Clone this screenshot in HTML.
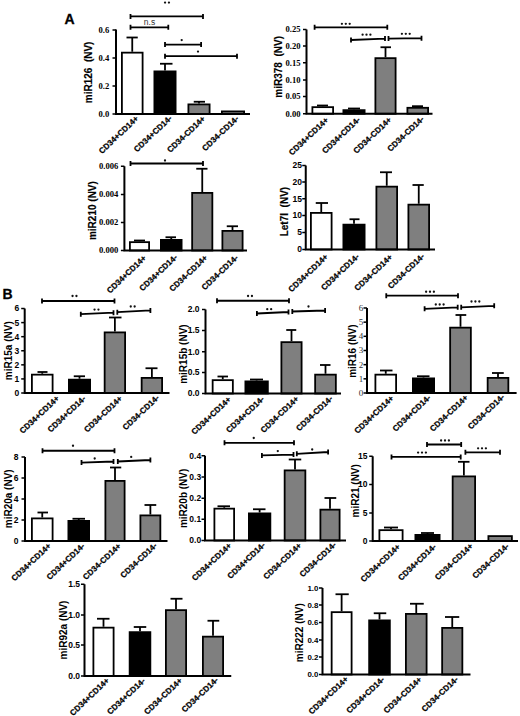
<!DOCTYPE html>
<html><head><meta charset="utf-8"><style>
html,body{margin:0;padding:0;background:#fff;}
svg{display:block;}
text{font-family:"Liberation Sans", sans-serif;}
.b{stroke:#000;stroke-width:1.8;}
.e{stroke:#000;stroke-width:1.8;}
.a{fill:none;stroke:#000;stroke-width:2.0;}
.t{stroke:#000;stroke-width:1.5;}
.s{fill:none;stroke:#000;stroke-width:1.8;}
.dot{fill:#111;}
.ts{font-family:"Liberation Serif", serif;font-weight:bold;text-anchor:end;}
.tg{font-family:"Liberation Serif", serif;fill:#333;text-anchor:end;}
.tn{font-weight:bold;text-anchor:end;}
.yt{font-weight:bold;text-anchor:middle;}
.yth{stroke:#000;stroke-width:0.15;}
.st{font-size:8.5px;font-weight:bold;text-anchor:middle;}
.ns{font-size:8.5px;text-anchor:middle;fill:#333;}
.xl{font-size:8.1px;font-weight:bold;text-anchor:end;stroke:#000;stroke-width:0.25;}
.pl{font-size:14px;font-weight:bold;stroke:#000;stroke-width:0.3;}
</style></head><body>
<svg width="520" height="716" viewBox="0 0 520 716">
<text x="64.6" y="24.1" class="pl">A</text>
<text x="2.6" y="299.1" class="pl">B</text>
<line x1="132.25" y1="51.75" x2="132.25" y2="37.5" class="e"/>
<line x1="126.5" y1="37.5" x2="137.75" y2="37.5" class="e"/>
<rect x="121.9" y="52.65" width="20.7" height="61.35" fill="#fff" class="b"/>
<line x1="165" y1="70.5" x2="165" y2="63.75" class="e"/>
<line x1="160" y1="63.75" x2="172.5" y2="63.75" class="e"/>
<rect x="154.4" y="71.4" width="21.2" height="42.6" fill="#000" class="b"/>
<line x1="199" y1="103.5" x2="199" y2="101.75" class="e"/>
<line x1="193.75" y1="101.75" x2="205" y2="101.75" class="e"/>
<rect x="188.4" y="104.4" width="21.2" height="9.6" fill="#7f7f7f" class="b"/>
<rect x="221.9" y="111.4" width="22.2" height="2.6" fill="#7f7f7f" class="b"/>
<path d="M116 29.5V114H250" class="a"/>
<line x1="112.5" y1="114" x2="116" y2="114" class="t"/>
<text x="109.2" y="116.9" class="ts" style="font-size:8.6px">0.0</text>
<line x1="112.5" y1="86" x2="116" y2="86" class="t"/>
<text x="109.2" y="88.9" class="ts" style="font-size:8.6px">0.2</text>
<line x1="112.5" y1="58" x2="116" y2="58" class="t"/>
<text x="109.2" y="60.9" class="ts" style="font-size:8.6px">0.4</text>
<line x1="112.5" y1="30" x2="116" y2="30" class="t"/>
<text x="109.2" y="32.9" class="ts" style="font-size:8.6px">0.6</text>
<text transform="translate(92 72.4) rotate(-90)" class="yt yth" style="font-size:10px">miR126  (NV)</text>
<path d="M130.5 13.9V18.9M130.5 16.4L203 16.4M203 13.9V18.9" class="s"/>
<circle cx="165.05" cy="2.6" r="1.15" class="dot"/>
<circle cx="168.95" cy="2.6" r="1.15" class="dot"/>
<path d="M130.5 24.8V29.8M130.5 27.3L168.3 27.3M168.3 24.8V29.8" class="s"/>
<text x="149.5" y="25.1" class="ns">n.s</text>
<path d="M165 42.1V47.1M165 44.6L201.1 44.6M201.1 42.1V47.1" class="s"/>
<circle cx="181.7" cy="40.1" r="1.15" class="dot"/>
<path d="M165 53.7V58.7M165 56.2L237 56.2M237 53.7V58.7" class="s"/>
<circle cx="198" cy="51.6" r="1.15" class="dot"/>
<text transform="translate(138.9 119.2) rotate(-43.5)" class="xl">CD34+CD14+</text>
<text transform="translate(172.5 118.9) rotate(-43.5)" class="xl">CD34+CD14-</text>
<text transform="translate(205.6 119.4) rotate(-43.5)" class="xl">CD34-CD14+</text>
<text transform="translate(239.3 119.2) rotate(-43.5)" class="xl">CD34-CD14-</text>
<line x1="322.75" y1="106.25" x2="322.75" y2="105.5" class="e"/>
<line x1="317" y1="105.5" x2="328" y2="105.5" class="e"/>
<rect x="312.4" y="107.15" width="20.7" height="6.6" fill="#fff" class="b"/>
<line x1="354" y1="109.25" x2="354" y2="108.5" class="e"/>
<line x1="348" y1="108.5" x2="360" y2="108.5" class="e"/>
<rect x="343.4" y="110.15" width="21.2" height="3.6" fill="#000" class="b"/>
<line x1="385.5" y1="57.25" x2="385.5" y2="47.25" class="e"/>
<line x1="380.5" y1="47.25" x2="391" y2="47.25" class="e"/>
<rect x="375.4" y="58.15" width="20.2" height="55.6" fill="#7f7f7f" class="b"/>
<line x1="417.75" y1="106.9" x2="417.75" y2="106.2" class="e"/>
<line x1="412" y1="106.2" x2="423" y2="106.2" class="e"/>
<rect x="407.4" y="107.8" width="20.7" height="5.95" fill="#7f7f7f" class="b"/>
<path d="M306.5 29.5V113.75H432.5" class="a"/>
<line x1="303" y1="113.75" x2="306.5" y2="113.75" class="t"/>
<text x="300.6" y="116.65" class="ts" style="font-size:8.6px">0.00</text>
<line x1="303" y1="96.5" x2="306.5" y2="96.5" class="t"/>
<text x="300.6" y="99.4" class="ts" style="font-size:8.6px">0.05</text>
<line x1="303" y1="80" x2="306.5" y2="80" class="t"/>
<text x="300.6" y="82.9" class="ts" style="font-size:8.6px">0.10</text>
<line x1="303" y1="62.75" x2="306.5" y2="62.75" class="t"/>
<text x="300.6" y="65.65" class="ts" style="font-size:8.6px">0.15</text>
<line x1="303" y1="46" x2="306.5" y2="46" class="t"/>
<text x="300.6" y="48.9" class="ts" style="font-size:8.6px">0.20</text>
<line x1="303" y1="29.5" x2="306.5" y2="29.5" class="t"/>
<text x="300.6" y="32.4" class="ts" style="font-size:8.6px">0.25</text>
<text transform="translate(282.3 66.8) rotate(-90)" class="yt yth" style="font-size:10px">miR378  (NV)</text>
<path d="M314.6 24.8V29.8M314.6 27.3L387.3 27.3M387.3 24.8V29.8" class="s"/>
<circle cx="341.9" cy="23.8" r="1.15" class="dot"/>
<circle cx="345.8" cy="23.8" r="1.15" class="dot"/>
<circle cx="349.7" cy="23.8" r="1.15" class="dot"/>
<path d="M351 37.5V42.5M351 40L385 38.6M385 36.1V41.1" class="s"/>
<circle cx="362.6" cy="34.7" r="1.15" class="dot"/>
<circle cx="366.5" cy="34.7" r="1.15" class="dot"/>
<circle cx="370.4" cy="34.7" r="1.15" class="dot"/>
<path d="M388.5 36.1V41.1M388.5 38.6L421.5 38.2M421.5 35.7V40.7" class="s"/>
<circle cx="401.9" cy="33.8" r="1.15" class="dot"/>
<circle cx="405.8" cy="33.8" r="1.15" class="dot"/>
<circle cx="409.7" cy="33.8" r="1.15" class="dot"/>
<text transform="translate(329 120.8) rotate(-43.5)" class="xl">CD34+CD14+</text>
<text transform="translate(360.6 120.35) rotate(-43.5)" class="xl">CD34+CD14-</text>
<text transform="translate(392 120.5) rotate(-43.5)" class="xl">CD34-CD14+</text>
<text transform="translate(424.5 119.7) rotate(-43.5)" class="xl">CD34-CD14-</text>
<line x1="139.5" y1="241.25" x2="139.5" y2="240.5" class="e"/>
<line x1="134" y1="240.5" x2="145" y2="240.5" class="e"/>
<rect x="129.9" y="242.15" width="19.2" height="8.35" fill="#fff" class="b"/>
<line x1="171.25" y1="239" x2="171.25" y2="237.25" class="e"/>
<line x1="165.5" y1="237.25" x2="176" y2="237.25" class="e"/>
<rect x="160.9" y="239.9" width="20.7" height="10.6" fill="#000" class="b"/>
<line x1="202.25" y1="192" x2="202.25" y2="168.75" class="e"/>
<line x1="196.25" y1="168.75" x2="207.5" y2="168.75" class="e"/>
<rect x="192.15" y="192.9" width="20.2" height="57.6" fill="#7f7f7f" class="b"/>
<line x1="232.5" y1="230" x2="232.5" y2="226.25" class="e"/>
<line x1="226.75" y1="226.25" x2="238" y2="226.25" class="e"/>
<rect x="222.4" y="230.9" width="20.2" height="19.6" fill="#7f7f7f" class="b"/>
<path d="M124.4 166.25V250.5H247" class="a"/>
<line x1="120.9" y1="250.5" x2="124.4" y2="250.5" class="t"/>
<text x="118.3" y="253.4" class="ts" style="font-size:8.6px">0.000</text>
<line x1="120.9" y1="222.5" x2="124.4" y2="222.5" class="t"/>
<text x="118.3" y="225.4" class="ts" style="font-size:8.6px">0.002</text>
<line x1="120.9" y1="194.5" x2="124.4" y2="194.5" class="t"/>
<text x="118.3" y="197.4" class="ts" style="font-size:8.6px">0.004</text>
<line x1="120.9" y1="166.25" x2="124.4" y2="166.25" class="t"/>
<text x="118.3" y="169.15" class="ts" style="font-size:8.6px">0.006</text>
<text transform="translate(96 210.6) rotate(-90)" class="yt yth" style="font-size:10px">miR210 (NV)</text>
<path d="M130.5 161V166M130.5 163.5L203 163.5M203 161V166" class="s"/>
<circle cx="165" cy="160.5" r="1.15" class="dot"/>
<text transform="translate(146.8 258.75) rotate(-43.5)" class="xl">CD34+CD14+</text>
<text transform="translate(177.85 258) rotate(-43.5)" class="xl">CD34+CD14-</text>
<text transform="translate(207.9 258.4) rotate(-43.5)" class="xl">CD34-CD14+</text>
<text transform="translate(238.6 258.3) rotate(-43.5)" class="xl">CD34-CD14-</text>
<line x1="321.25" y1="212" x2="321.25" y2="203" class="e"/>
<line x1="315.75" y1="203" x2="328" y2="203" class="e"/>
<rect x="310.9" y="212.9" width="20.7" height="36.6" fill="#fff" class="b"/>
<line x1="354" y1="223.75" x2="354" y2="219.25" class="e"/>
<line x1="349.5" y1="219.25" x2="359.5" y2="219.25" class="e"/>
<rect x="343.4" y="224.65" width="21.2" height="24.85" fill="#000" class="b"/>
<line x1="386.75" y1="185.75" x2="386.75" y2="172.25" class="e"/>
<line x1="380" y1="172.25" x2="392" y2="172.25" class="e"/>
<rect x="376.4" y="186.65" width="20.7" height="62.85" fill="#7f7f7f" class="b"/>
<line x1="418.75" y1="203.75" x2="418.75" y2="185" class="e"/>
<line x1="412.5" y1="185" x2="423.75" y2="185" class="e"/>
<rect x="408.4" y="204.65" width="20.7" height="44.85" fill="#7f7f7f" class="b"/>
<path d="M305.75 165.5V249.5H435" class="a"/>
<line x1="302.25" y1="249.5" x2="305.75" y2="249.5" class="t"/>
<text x="302" y="252.4" class="tn" style="font-size:8.5px">0</text>
<line x1="302.25" y1="232.5" x2="305.75" y2="232.5" class="t"/>
<text x="302" y="235.4" class="tn" style="font-size:8.5px">5</text>
<line x1="302.25" y1="215.5" x2="305.75" y2="215.5" class="t"/>
<text x="302" y="218.4" class="tn" style="font-size:8.5px">10</text>
<line x1="302.25" y1="198.75" x2="305.75" y2="198.75" class="t"/>
<text x="302" y="201.65" class="tn" style="font-size:8.5px">15</text>
<line x1="302.25" y1="182" x2="305.75" y2="182" class="t"/>
<text x="302" y="184.9" class="tn" style="font-size:8.5px">20</text>
<line x1="302.25" y1="165.5" x2="305.75" y2="165.5" class="t"/>
<text x="302" y="168.4" class="tn" style="font-size:8.5px">25</text>
<text transform="translate(287.5 211.6) rotate(-90)" class="yt yth" style="font-size:10px">Let7I  (NV)</text>
<text transform="translate(328.5 257.4) rotate(-43.5)" class="xl">CD34+CD14+</text>
<text transform="translate(359.6 257.25) rotate(-43.5)" class="xl">CD34+CD14-</text>
<text transform="translate(393 257.75) rotate(-43.5)" class="xl">CD34-CD14+</text>
<text transform="translate(424.9 257) rotate(-43.5)" class="xl">CD34-CD14-</text>
<line x1="42.25" y1="373.75" x2="42.25" y2="372" class="e"/>
<line x1="37.5" y1="372" x2="47.5" y2="372" class="e"/>
<rect x="31.9" y="374.65" width="20.7" height="18.35" fill="#fff" class="b"/>
<line x1="79.5" y1="378.75" x2="79.5" y2="376.25" class="e"/>
<line x1="73.75" y1="376.25" x2="85" y2="376.25" class="e"/>
<rect x="68.9" y="379.65" width="21.2" height="13.35" fill="#000" class="b"/>
<line x1="114.88" y1="331.5" x2="114.88" y2="317.5" class="e"/>
<line x1="109" y1="317.5" x2="121.5" y2="317.5" class="e"/>
<rect x="104.65" y="332.4" width="20.45" height="60.6" fill="#7f7f7f" class="b"/>
<line x1="151.88" y1="377" x2="151.88" y2="368.25" class="e"/>
<line x1="145.5" y1="368.25" x2="157.5" y2="368.25" class="e"/>
<rect x="141.65" y="377.9" width="20.45" height="15.1" fill="#7f7f7f" class="b"/>
<path d="M24.7 308.5V393H169.5" class="a"/>
<line x1="21.2" y1="393" x2="24.7" y2="393" class="t"/>
<text x="19.3" y="395.9" class="tn" style="font-size:8.5px">0</text>
<line x1="21.2" y1="378.92" x2="24.7" y2="378.92" class="t"/>
<text x="19.3" y="381.82" class="tn" style="font-size:8.5px">1</text>
<line x1="21.2" y1="364.84" x2="24.7" y2="364.84" class="t"/>
<text x="19.3" y="367.74" class="tn" style="font-size:8.5px">2</text>
<line x1="21.2" y1="350.76" x2="24.7" y2="350.76" class="t"/>
<text x="19.3" y="353.66" class="tn" style="font-size:8.5px">3</text>
<line x1="21.2" y1="336.68" x2="24.7" y2="336.68" class="t"/>
<text x="19.3" y="339.58" class="tn" style="font-size:8.5px">4</text>
<line x1="21.2" y1="322.6" x2="24.7" y2="322.6" class="t"/>
<text x="19.3" y="325.5" class="tn" style="font-size:8.5px">5</text>
<line x1="21.2" y1="308.52" x2="24.7" y2="308.52" class="t"/>
<text x="19.3" y="311.42" class="tn" style="font-size:8.5px">6</text>
<text transform="translate(12.3 350.7) rotate(-90)" class="yt" style="font-size:10px">miR15a (NV)</text>
<path d="M42 298.5V303.5M42 301L114.5 301M114.5 298.5V303.5" class="s"/>
<circle cx="72.55" cy="296" r="1.15" class="dot"/>
<circle cx="76.45" cy="296" r="1.15" class="dot"/>
<path d="M80.8 311.7V316.7M80.8 314.2L113.5 312.7M113.5 310.2V315.2" class="s"/>
<circle cx="94.55" cy="309.6" r="1.15" class="dot"/>
<circle cx="98.45" cy="309.6" r="1.15" class="dot"/>
<path d="M117.3 309.7V314.7M117.3 312.2L150.4 310.4M150.4 307.9V312.9" class="s"/>
<circle cx="130.75" cy="306.5" r="1.15" class="dot"/>
<circle cx="134.65" cy="306.5" r="1.15" class="dot"/>
<text transform="translate(59.75 399.1) rotate(-43.5)" class="xl">CD34+CD14+</text>
<text transform="translate(86.2 399.2) rotate(-43.5)" class="xl">CD34+CD14-</text>
<text transform="translate(122.75 399.2) rotate(-43.5)" class="xl">CD34-CD14+</text>
<text transform="translate(159.65 398.35) rotate(-43.5)" class="xl">CD34-CD14-</text>
<line x1="222.75" y1="379.25" x2="222.75" y2="376.5" class="e"/>
<line x1="217.5" y1="376.5" x2="228" y2="376.5" class="e"/>
<rect x="212.65" y="380.15" width="20.2" height="13.35" fill="#fff" class="b"/>
<line x1="256.62" y1="380.5" x2="256.62" y2="379.5" class="e"/>
<line x1="250" y1="379.5" x2="263" y2="379.5" class="e"/>
<rect x="245.4" y="381.4" width="22.45" height="12.1" fill="#000" class="b"/>
<line x1="291.5" y1="341.25" x2="291.5" y2="330" class="e"/>
<line x1="286.25" y1="330" x2="296.25" y2="330" class="e"/>
<rect x="281.4" y="342.15" width="20.2" height="51.35" fill="#7f7f7f" class="b"/>
<line x1="325.5" y1="373.75" x2="325.5" y2="365" class="e"/>
<line x1="320" y1="365" x2="330.5" y2="365" class="e"/>
<rect x="315.15" y="374.65" width="20.7" height="18.85" fill="#7f7f7f" class="b"/>
<path d="M205.5 309.5V393.5H341" class="a"/>
<line x1="202" y1="393.5" x2="205.5" y2="393.5" class="t"/>
<text x="199.6" y="396.4" class="tn" style="font-size:8.5px">0.0</text>
<line x1="202" y1="372.5" x2="205.5" y2="372.5" class="t"/>
<text x="199.6" y="375.4" class="tn" style="font-size:8.5px">0.5</text>
<line x1="202" y1="351.75" x2="205.5" y2="351.75" class="t"/>
<text x="199.6" y="354.65" class="tn" style="font-size:8.5px">1.0</text>
<line x1="202" y1="330.5" x2="205.5" y2="330.5" class="t"/>
<text x="199.6" y="333.4" class="tn" style="font-size:8.5px">1.5</text>
<line x1="202" y1="309.5" x2="205.5" y2="309.5" class="t"/>
<text x="199.6" y="312.4" class="tn" style="font-size:8.5px">2.0</text>
<text transform="translate(187 354.1) rotate(-90)" class="yt" style="font-size:10px">miR15b (NV)</text>
<path d="M217 298.25V303.25M217 300.75L289 300.75M289 298.25V303.25" class="s"/>
<circle cx="248.05" cy="296" r="1.15" class="dot"/>
<circle cx="251.95" cy="296" r="1.15" class="dot"/>
<path d="M256.9 311V316M256.9 313.5L288.5 312M288.5 309.5V314.5" class="s"/>
<circle cx="267.25" cy="309.2" r="1.15" class="dot"/>
<circle cx="271.15" cy="309.2" r="1.15" class="dot"/>
<path d="M292.3 309V314M292.3 311.5L325.1 310.5M325.1 308V313" class="s"/>
<circle cx="308.5" cy="306.5" r="1.15" class="dot"/>
<text transform="translate(231.5 400.1) rotate(-43.5)" class="xl">CD34+CD14+</text>
<text transform="translate(264.65 399.6) rotate(-43.5)" class="xl">CD34+CD14-</text>
<text transform="translate(299.25 399.6) rotate(-43.5)" class="xl">CD34-CD14+</text>
<text transform="translate(333.3 399.25) rotate(-43.5)" class="xl">CD34-CD14-</text>
<line x1="385.75" y1="373.75" x2="385.75" y2="370.5" class="e"/>
<line x1="380" y1="370.5" x2="392.5" y2="370.5" class="e"/>
<rect x="375.4" y="374.65" width="20.7" height="18.35" fill="#fff" class="b"/>
<line x1="423.5" y1="377.5" x2="423.5" y2="376.25" class="e"/>
<line x1="417" y1="376.25" x2="429.5" y2="376.25" class="e"/>
<rect x="412.9" y="378.4" width="21.2" height="14.6" fill="#000" class="b"/>
<line x1="460.5" y1="326.75" x2="460.5" y2="315" class="e"/>
<line x1="455.5" y1="315" x2="466.25" y2="315" class="e"/>
<rect x="450.15" y="327.65" width="20.7" height="65.35" fill="#7f7f7f" class="b"/>
<line x1="498" y1="377" x2="498" y2="373" class="e"/>
<line x1="492" y1="373" x2="503.75" y2="373" class="e"/>
<rect x="487.65" y="377.9" width="20.7" height="15.1" fill="#7f7f7f" class="b"/>
<path d="M367 308V393H516.6" class="a"/>
<line x1="363.5" y1="393" x2="367" y2="393" class="t"/>
<text x="363.2" y="395.9" class="tg" style="font-size:9px">0</text>
<line x1="363.5" y1="378.83" x2="367" y2="378.83" class="t"/>
<text x="363.2" y="381.73" class="tg" style="font-size:9px">1</text>
<line x1="363.5" y1="364.66" x2="367" y2="364.66" class="t"/>
<text x="363.2" y="367.56" class="tg" style="font-size:9px">2</text>
<line x1="363.5" y1="350.49" x2="367" y2="350.49" class="t"/>
<text x="363.2" y="353.39" class="tg" style="font-size:9px">3</text>
<line x1="363.5" y1="336.32" x2="367" y2="336.32" class="t"/>
<text x="363.2" y="339.22" class="tg" style="font-size:9px">4</text>
<line x1="363.5" y1="322.15" x2="367" y2="322.15" class="t"/>
<text x="363.2" y="325.05" class="tg" style="font-size:9px">5</text>
<line x1="363.5" y1="307.98" x2="367" y2="307.98" class="t"/>
<text x="363.2" y="310.88" class="tg" style="font-size:9px">6</text>
<text transform="translate(356 351.2) rotate(-90)" class="yt" style="font-size:10px">miR16 (NV)</text>
<path d="M386.25 293.2V298.2M386.25 295.7L458 295.7M458 293.2V298.2" class="s"/>
<circle cx="426.1" cy="291.75" r="1.15" class="dot"/>
<circle cx="430" cy="291.75" r="1.15" class="dot"/>
<circle cx="433.9" cy="291.75" r="1.15" class="dot"/>
<path d="M424.6 306.3V311.3M424.6 308.8L457.7 307.3M457.7 304.8V309.8" class="s"/>
<circle cx="435.8" cy="304.5" r="1.15" class="dot"/>
<circle cx="439.7" cy="304.5" r="1.15" class="dot"/>
<circle cx="443.6" cy="304.5" r="1.15" class="dot"/>
<path d="M461.2 304.8V309.8M461.2 307.3L494.2 305.8M494.2 303.3V308.3" class="s"/>
<circle cx="471.5" cy="301.5" r="1.15" class="dot"/>
<circle cx="475.4" cy="301.5" r="1.15" class="dot"/>
<circle cx="479.3" cy="301.5" r="1.15" class="dot"/>
<text transform="translate(394.3 399) rotate(-43.5)" class="xl">CD34+CD14+</text>
<text transform="translate(431.25 398.3) rotate(-43.5)" class="xl">CD34+CD14-</text>
<text transform="translate(468.35 398.35) rotate(-43.5)" class="xl">CD34-CD14+</text>
<text transform="translate(504.9 397.65) rotate(-43.5)" class="xl">CD34-CD14-</text>
<line x1="42.25" y1="517.5" x2="42.25" y2="512.5" class="e"/>
<line x1="37.5" y1="512.5" x2="48" y2="512.5" class="e"/>
<rect x="31.9" y="518.4" width="20.7" height="22.6" fill="#fff" class="b"/>
<line x1="78.75" y1="520" x2="78.75" y2="518.75" class="e"/>
<line x1="72.5" y1="518.75" x2="85" y2="518.75" class="e"/>
<rect x="68.4" y="520.9" width="20.7" height="20.1" fill="#000" class="b"/>
<line x1="115" y1="480" x2="115" y2="467.5" class="e"/>
<line x1="110" y1="467.5" x2="121.25" y2="467.5" class="e"/>
<rect x="105.4" y="480.9" width="19.2" height="60.1" fill="#7f7f7f" class="b"/>
<line x1="150.38" y1="514.5" x2="150.38" y2="505" class="e"/>
<line x1="144.5" y1="505" x2="156.25" y2="505" class="e"/>
<rect x="140.4" y="515.4" width="19.95" height="25.6" fill="#7f7f7f" class="b"/>
<path d="M25 457V541H167.5" class="a"/>
<line x1="21.5" y1="541" x2="25" y2="541" class="t"/>
<text x="18.5" y="543.9" class="tn" style="font-size:8.5px">0</text>
<line x1="21.5" y1="520" x2="25" y2="520" class="t"/>
<text x="18.5" y="522.9" class="tn" style="font-size:8.5px">2</text>
<line x1="21.5" y1="499" x2="25" y2="499" class="t"/>
<text x="18.5" y="501.9" class="tn" style="font-size:8.5px">4</text>
<line x1="21.5" y1="478" x2="25" y2="478" class="t"/>
<text x="18.5" y="480.9" class="tn" style="font-size:8.5px">6</text>
<line x1="21.5" y1="457" x2="25" y2="457" class="t"/>
<text x="18.5" y="459.9" class="tn" style="font-size:8.5px">8</text>
<text transform="translate(12.3 498.8) rotate(-90)" class="yt" style="font-size:10px">miR20a (NV)</text>
<path d="M42.5 448.25V453.25M42.5 450.75L114.5 450.75M114.5 448.25V453.25" class="s"/>
<circle cx="73" cy="445.75" r="1.15" class="dot"/>
<path d="M81.5 460.1V465.1M81.5 462.6L113.5 461.5M113.5 459V464" class="s"/>
<circle cx="94.7" cy="458.5" r="1.15" class="dot"/>
<path d="M117.8 459V464M117.8 461.5L150.4 460M150.4 457.5V462.5" class="s"/>
<circle cx="131.2" cy="456.9" r="1.15" class="dot"/>
<text transform="translate(51.35 546.55) rotate(-43.5)" class="xl">CD34+CD14+</text>
<text transform="translate(85.15 546.6) rotate(-43.5)" class="xl">CD34+CD14-</text>
<text transform="translate(121.45 546.65) rotate(-43.5)" class="xl">CD34-CD14+</text>
<text transform="translate(157.45 546.25) rotate(-43.5)" class="xl">CD34-CD14-</text>
<line x1="224.25" y1="507.75" x2="224.25" y2="506.25" class="e"/>
<line x1="217.5" y1="506.25" x2="230" y2="506.25" class="e"/>
<rect x="214.4" y="508.65" width="19.7" height="31.85" fill="#fff" class="b"/>
<line x1="259.62" y1="512.5" x2="259.62" y2="509.25" class="e"/>
<line x1="253" y1="509.25" x2="265.5" y2="509.25" class="e"/>
<rect x="248.9" y="513.4" width="21.45" height="27.1" fill="#000" class="b"/>
<line x1="295" y1="469.5" x2="295" y2="459.5" class="e"/>
<line x1="288.75" y1="459.5" x2="301.25" y2="459.5" class="e"/>
<rect x="284.65" y="470.4" width="20.7" height="70.1" fill="#7f7f7f" class="b"/>
<line x1="330" y1="508.75" x2="330" y2="498" class="e"/>
<line x1="324.5" y1="498" x2="336.25" y2="498" class="e"/>
<rect x="320.4" y="509.65" width="19.2" height="30.85" fill="#7f7f7f" class="b"/>
<path d="M205 455.75V540.5H346" class="a"/>
<line x1="201.5" y1="540.5" x2="205" y2="540.5" class="t"/>
<text x="201.2" y="543.4" class="tn" style="font-size:8.5px">0.0</text>
<line x1="201.5" y1="519.25" x2="205" y2="519.25" class="t"/>
<text x="201.2" y="522.15" class="tn" style="font-size:8.5px">0.1</text>
<line x1="201.5" y1="498.25" x2="205" y2="498.25" class="t"/>
<text x="201.2" y="501.15" class="tn" style="font-size:8.5px">0.2</text>
<line x1="201.5" y1="477" x2="205" y2="477" class="t"/>
<text x="201.2" y="479.9" class="tn" style="font-size:8.5px">0.3</text>
<line x1="201.5" y1="455.75" x2="205" y2="455.75" class="t"/>
<text x="201.2" y="458.65" class="tn" style="font-size:8.5px">0.4</text>
<text transform="translate(186.5 498.4) rotate(-90)" class="yt" style="font-size:10px">miR20b (NV)</text>
<path d="M224.5 440.3V445.3M224.5 442.8L294 442.8M294 440.3V445.3" class="s"/>
<circle cx="253.75" cy="438" r="1.15" class="dot"/>
<path d="M261.9 452.9V457.9M261.9 455.4L293.5 454.6M293.5 452.1V457.1" class="s"/>
<circle cx="277.8" cy="451.1" r="1.15" class="dot"/>
<path d="M296.8 451.3V456.3M296.8 453.8L328.1 452M328.1 449.5V454.5" class="s"/>
<circle cx="312.2" cy="449.5" r="1.15" class="dot"/>
<text transform="translate(232 546.35) rotate(-43.5)" class="xl">CD34+CD14+</text>
<text transform="translate(265.8 545.7) rotate(-43.5)" class="xl">CD34+CD14-</text>
<text transform="translate(301.95 546.2) rotate(-43.5)" class="xl">CD34-CD14+</text>
<text transform="translate(336.75 545.35) rotate(-43.5)" class="xl">CD34-CD14-</text>
<line x1="391" y1="529.25" x2="391" y2="527.5" class="e"/>
<line x1="384" y1="527.5" x2="398" y2="527.5" class="e"/>
<rect x="379.4" y="530.15" width="23.2" height="10.85" fill="#fff" class="b"/>
<line x1="427.5" y1="534" x2="427.5" y2="533" class="e"/>
<line x1="421" y1="533" x2="434" y2="533" class="e"/>
<rect x="415.4" y="534.9" width="24.2" height="6.1" fill="#000" class="b"/>
<line x1="463.88" y1="475.5" x2="463.88" y2="461.8" class="e"/>
<line x1="458" y1="461.8" x2="469.5" y2="461.8" class="e"/>
<rect x="452.65" y="476.4" width="22.45" height="64.6" fill="#7f7f7f" class="b"/>
<rect x="488.4" y="536.1" width="23.5" height="4.9" fill="#7f7f7f" class="b"/>
<path d="M372.7 456.25V541H518" class="a"/>
<line x1="369.2" y1="541" x2="372.7" y2="541" class="t"/>
<text x="367.5" y="543.9" class="tn" style="font-size:8.5px">0</text>
<line x1="369.2" y1="513" x2="372.7" y2="513" class="t"/>
<text x="367.5" y="515.9" class="tn" style="font-size:8.5px">5</text>
<line x1="369.2" y1="484.5" x2="372.7" y2="484.5" class="t"/>
<text x="367.5" y="487.4" class="tn" style="font-size:8.5px">10</text>
<line x1="369.2" y1="456.25" x2="372.7" y2="456.25" class="t"/>
<text x="367.5" y="459.15" class="tn" style="font-size:8.5px">15</text>
<text transform="translate(359 490.8) rotate(-90)" class="yt" style="font-size:10px">miR21 (NV)</text>
<path d="M391.5 454.4V459.4M391.5 456.9L460.7 456.9M460.7 454.4V459.4" class="s"/>
<circle cx="418.1" cy="452.6" r="1.15" class="dot"/>
<circle cx="422" cy="452.6" r="1.15" class="dot"/>
<circle cx="425.9" cy="452.6" r="1.15" class="dot"/>
<path d="M427 442V447M427 444.5L461.2 444.5M461.2 442V447" class="s"/>
<circle cx="441.1" cy="440.5" r="1.15" class="dot"/>
<circle cx="445" cy="440.5" r="1.15" class="dot"/>
<circle cx="448.9" cy="440.5" r="1.15" class="dot"/>
<path d="M465.4 449.8V454.8M465.4 452.3L500 452.3M500 449.8V454.8" class="s"/>
<circle cx="478.1" cy="448.3" r="1.15" class="dot"/>
<circle cx="482" cy="448.3" r="1.15" class="dot"/>
<circle cx="485.9" cy="448.3" r="1.15" class="dot"/>
<text transform="translate(400.75 547.4) rotate(-43.5)" class="xl">CD34+CD14+</text>
<text transform="translate(436.6 547.3) rotate(-43.5)" class="xl">CD34+CD14-</text>
<text transform="translate(473.35 546.85) rotate(-43.5)" class="xl">CD34-CD14+</text>
<text transform="translate(509.45 546.85) rotate(-43.5)" class="xl">CD34-CD14-</text>
<line x1="103.5" y1="626.75" x2="103.5" y2="618.75" class="e"/>
<line x1="97" y1="618.75" x2="109.5" y2="618.75" class="e"/>
<rect x="93.4" y="627.65" width="20.2" height="48.35" fill="#fff" class="b"/>
<line x1="140" y1="631.25" x2="140" y2="627" class="e"/>
<line x1="133.75" y1="627" x2="146.25" y2="627" class="e"/>
<rect x="129.65" y="632.15" width="20.7" height="43.85" fill="#000" class="b"/>
<line x1="176" y1="609.25" x2="176" y2="598.75" class="e"/>
<line x1="170.5" y1="598.75" x2="182.5" y2="598.75" class="e"/>
<rect x="165.9" y="610.15" width="20.2" height="65.85" fill="#7f7f7f" class="b"/>
<line x1="213" y1="635.75" x2="213" y2="620.75" class="e"/>
<line x1="207.5" y1="620.75" x2="219.25" y2="620.75" class="e"/>
<rect x="202.9" y="636.65" width="20.2" height="39.35" fill="#7f7f7f" class="b"/>
<path d="M84.5 584.25V676H231.25" class="a"/>
<line x1="81" y1="676" x2="84.5" y2="676" class="t"/>
<text x="80" y="678.9" class="tn" style="font-size:8.5px">0.0</text>
<line x1="81" y1="645" x2="84.5" y2="645" class="t"/>
<text x="80" y="647.9" class="tn" style="font-size:8.5px">0.5</text>
<line x1="81" y1="615" x2="84.5" y2="615" class="t"/>
<text x="80" y="617.9" class="tn" style="font-size:8.5px">1.0</text>
<line x1="81" y1="584.25" x2="84.5" y2="584.25" class="t"/>
<text x="80" y="587.15" class="tn" style="font-size:8.5px">1.5</text>
<text transform="translate(66.7 630) rotate(-90)" class="yt" style="font-size:10px">miR92a (NV)</text>
<text transform="translate(109.8 681.15) rotate(-43.5)" class="xl">CD34+CD14+</text>
<text transform="translate(145.75 681.5) rotate(-43.5)" class="xl">CD34+CD14-</text>
<text transform="translate(182.75 681.35) rotate(-43.5)" class="xl">CD34-CD14+</text>
<text transform="translate(218.75 680.65) rotate(-43.5)" class="xl">CD34-CD14-</text>
<line x1="341.62" y1="611.25" x2="341.62" y2="594.25" class="e"/>
<line x1="335.5" y1="594.25" x2="348.75" y2="594.25" class="e"/>
<rect x="331.65" y="612.15" width="19.95" height="62.35" fill="#fff" class="b"/>
<line x1="379.5" y1="619.5" x2="379.5" y2="613.25" class="e"/>
<line x1="373.75" y1="613.25" x2="386.25" y2="613.25" class="e"/>
<rect x="369.15" y="620.4" width="20.7" height="54.1" fill="#000" class="b"/>
<line x1="416.25" y1="613" x2="416.25" y2="603.75" class="e"/>
<line x1="410" y1="603.75" x2="423.75" y2="603.75" class="e"/>
<rect x="405.9" y="613.9" width="20.7" height="60.6" fill="#7f7f7f" class="b"/>
<line x1="452.25" y1="627" x2="452.25" y2="617" class="e"/>
<line x1="445" y1="617" x2="459.25" y2="617" class="e"/>
<rect x="442.15" y="627.9" width="20.2" height="46.6" fill="#7f7f7f" class="b"/>
<path d="M322.5 588V674.5H470.5" class="a"/>
<line x1="319" y1="674.5" x2="322.5" y2="674.5" class="t"/>
<text x="318.4" y="677.4" class="tn" style="font-size:7.9px">0.0</text>
<line x1="319" y1="657" x2="322.5" y2="657" class="t"/>
<text x="318.4" y="659.9" class="tn" style="font-size:7.9px">0.2</text>
<line x1="319" y1="640" x2="322.5" y2="640" class="t"/>
<text x="318.4" y="642.9" class="tn" style="font-size:7.9px">0.4</text>
<line x1="319" y1="622.5" x2="322.5" y2="622.5" class="t"/>
<text x="318.4" y="625.4" class="tn" style="font-size:7.9px">0.6</text>
<line x1="319" y1="605" x2="322.5" y2="605" class="t"/>
<text x="318.4" y="607.9" class="tn" style="font-size:7.9px">0.8</text>
<line x1="319" y1="588" x2="322.5" y2="588" class="t"/>
<text x="318.4" y="590.9" class="tn" style="font-size:7.9px">1.0</text>
<text transform="translate(302.7 632.7) rotate(-90)" class="yt" style="font-size:10px">miR222 (NV)</text>
<text transform="translate(348.7 679.85) rotate(-43.5)" class="xl">CD34+CD14+</text>
<text transform="translate(384.9 680.15) rotate(-43.5)" class="xl">CD34+CD14-</text>
<text transform="translate(422.25 680.15) rotate(-43.5)" class="xl">CD34-CD14+</text>
<text transform="translate(458.75 679.95) rotate(-43.5)" class="xl">CD34-CD14-</text>
</svg>
</body></html>
